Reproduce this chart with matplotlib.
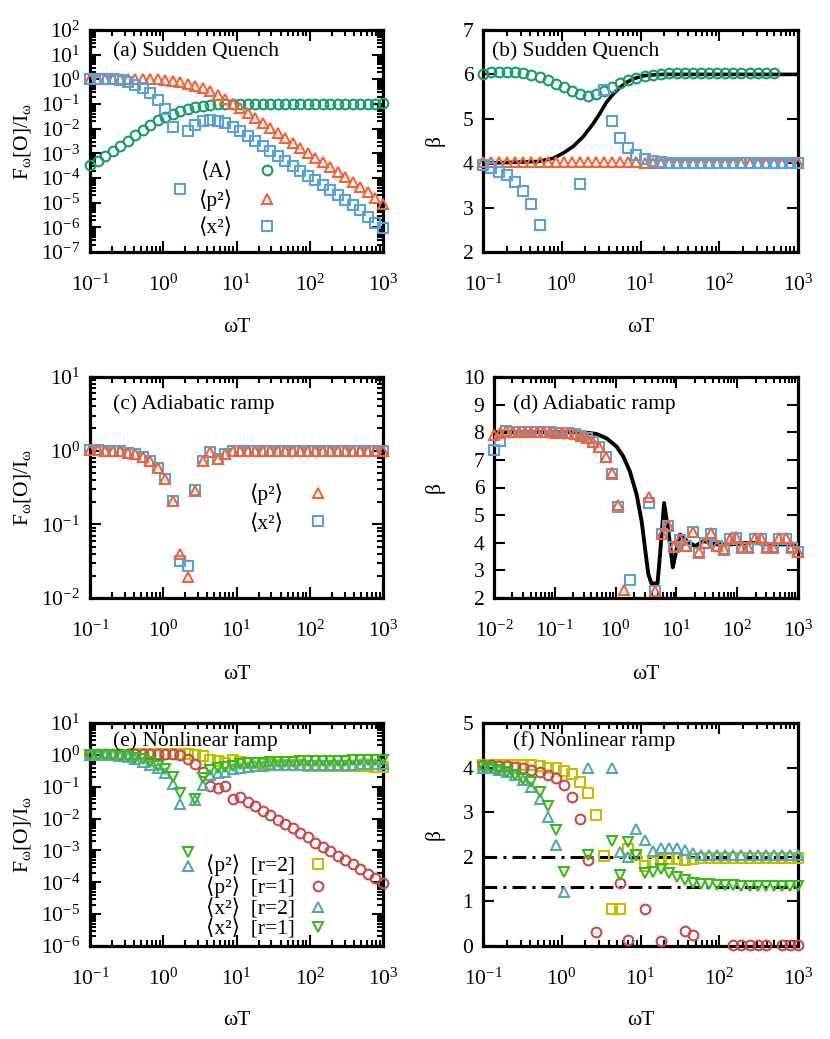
import numpy as np
import matplotlib
matplotlib.use('Agg')
import matplotlib.pyplot as plt
from matplotlib.ticker import LogLocator, NullFormatter, MultipleLocator

plt.rcParams['font.family'] = ['Liberation Serif', 'DejaVu Sans']
plt.rcParams['mathtext.fontset'] = 'custom'
plt.rcParams['mathtext.rm'] = 'Liberation Serif'
plt.rcParams['mathtext.it'] = 'Liberation Serif:italic'
plt.rcParams['mathtext.bf'] = 'Liberation Serif:bold'
plt.rcParams['axes.unicode_minus'] = False
plt.rcParams['font.size'] = 15.5

nan = np.nan

# omega*T grids (40 points for a,b,c,e,f; 50 points for d)
wT = [0.1, 0.1266, 0.1604, 0.2031, 0.2572, 0.3257, 0.4125, 0.5223, 0.6614, 0.8377,
      1.061, 1.343, 1.701, 2.154, 2.728, 3.455, 4.376, 5.541, 7.017, 8.886,
      11.25, 14.25, 18.05, 22.85, 28.94, 36.65, 46.42, 58.78, 74.44, 94.27,
      119.4, 151.2, 191.5, 242.5, 307.0, 388.8, 492.4, 623.6, 789.7, 1000]
wT_d = [0.01, 0.01265, 0.016, 0.02024, 0.0256, 0.03237, 0.04095, 0.0518, 0.06551, 0.08286,
        0.1048, 0.1326, 0.1677, 0.2121, 0.2683, 0.3393, 0.4292, 0.5429, 0.6866, 0.8685,
        1.099, 1.390, 1.758, 2.223, 2.812, 3.557, 4.498, 5.690, 7.197, 9.103,
        11.51, 14.56, 18.42, 23.30, 29.47, 37.28, 47.15, 59.64, 75.43, 95.41,
        120.7, 152.6, 193.1, 244.2, 308.9, 390.7, 494.2, 625.1, 790.6, 1000]

# (a) sudden quench, log10 of F/I
a_A = [-3.46, -3.30, -3.09, -2.89, -2.69, -2.49, -2.27, -2.05, -1.84, -1.66,
       -1.51, -1.39, -1.30, -1.20, -1.14, -1.08, -1.04, -1.01, -1.00, -0.99,
       -0.99, -0.99, -0.99, -0.99, -0.99, -0.99, -0.99, -0.99, -0.99, -0.99,
       -0.99, -0.99, -0.99, -0.99, -0.99, -0.99, -0.99, -0.99, -0.99, -0.97]
a_p2 = [0.03, 0.03, 0.03, 0.03, 0.03, 0.03, 0.03, 0.02, 0.02, 0.00,
        -0.03, -0.05, -0.11, -0.18, -0.25, -0.35, -0.48, -0.63, -0.80, -0.98,
        -1.17, -1.37, -1.57, -1.77, -1.97, -2.17, -2.37, -2.57, -2.77, -2.97,
        -3.17, -3.37, -3.57, -3.77, -3.97, -4.17, -4.37, -4.58, -4.80, -5.05]
a_x2 = [0.02, 0.02, 0.01, 0.00, -0.03, -0.10, -0.22, -0.35, -0.55, -0.82,
        -1.19, -1.92, -4.45, -2.11, -1.84, -1.68, -1.63, -1.67, -1.78, -1.93,
        -2.10, -2.29, -2.49, -2.69, -2.90, -3.10, -3.30, -3.50, -3.70, -3.90,
        -4.10, -4.30, -4.50, -4.70, -4.90, -5.10, -5.30, -5.58, -5.82, -6.03]

# (b) sudden quench, beta
b_A = [6.01, 6.05, 6.05, 6.05, 6.05, 6.03, 5.99, 5.94, 5.87, 5.79,
       5.71, 5.63, 5.56, 5.52, 5.55, 5.63, 5.72, 5.80, 5.87, 5.92,
       5.96, 5.99, 6.01, 6.03, 6.03, 6.03, 6.03, 6.03, 6.03, 6.03,
       6.03, 6.03, 6.03, 6.03, 6.03, 6.03, 6.03, nan, nan, nan]
b_p2 = [4.02, 4.02, 4.02, 4.02, 4.02, 4.02, 4.02, 4.02, 4.02, 4.02,
        4.02, 4.02, 4.02, 4.02, 4.02, 4.02, 4.02, 4.02, 4.02, 4.02,
        4.01, 4.01, 4.01, 4.01, 4.01, 4.01, 4.01, 4.01, 4.01, 4.01,
        4.01, 4.01, 4.01, 4.01, 4.01, 4.01, 4.01, 4.01, 4.01, 4.01]
b_x2 = [3.96, 3.89, 3.81, 3.73, 3.57, 3.38, 3.08, 2.61, nan, nan,
        nan, nan, 3.53, nan, nan, 5.65, 4.94, 4.56, 4.34, 4.19,
        4.10, 4.05, 4.02, 4.01, 4.00, 4.00, 4.00, 4.00, 4.00, 4.00,
        4.00, 4.00, 4.00, 4.00, 4.00, 4.00, 4.00, 4.00, 4.00, 4.00]
b_line_x = [0.1, 0.243, 0.5, 0.78, 1.05, 1.4, 1.88, 2.53, 3.07, 3.72,
            4.52, 5.49, 6.67, 8.1, 10.9, 14.6, 19.5, 1000]
b_line_y = [4.0, 4.02, 4.04, 4.11, 4.23, 4.38, 4.60, 4.90, 5.13, 5.38,
            5.56, 5.71, 5.82, 5.90, 5.97, 5.99, 6.0, 6.0]

# (c) adiabatic ramp, log10 of F/I
c_p2 = [0.01, 0.01, 0.00, 0.00, -0.01, -0.03, -0.05, -0.08, -0.14, -0.23,
        -0.38, -0.69, -1.40, -1.72, -0.55, -0.14, -0.02, -0.11, -0.04, -0.01,
        0.00, 0.00, 0.00, 0.00, 0.00, 0.00, 0.00, 0.00, 0.00, 0.00,
        0.00, 0.00, 0.00, 0.00, 0.00, 0.00, 0.00, 0.00, 0.00, 0.00]
c_x2 = [0.01, 0.01, 0.00, 0.00, -0.01, -0.03, -0.05, -0.08, -0.14, -0.23,
        -0.38, -0.69, -1.50, -1.57, -0.53, -0.14, -0.02, -0.11, -0.04, -0.01,
        0.00, 0.00, 0.00, 0.00, 0.00, 0.00, 0.00, 0.00, 0.00, 0.00,
        0.00, 0.00, 0.00, 0.00, 0.00, 0.00, 0.00, 0.00, 0.00, 0.00]

# (d) adiabatic ramp, beta
d_p2 = [7.90, 7.98, 8.05, 8.02, 8.01, 8.00, 8.00, 8.00, 8.00, 8.00,
        7.99, 7.98, 7.96, 7.93, 7.87, 7.78, 7.66, 7.45, 7.12, 6.52,
        5.35, 2.30, nan, nan, nan, 5.65, 2.27, 4.33, 4.65, 3.88,
        4.12, 3.88, 4.40, 3.66, 4.00, 4.34, 3.88, 3.76, 4.15, 4.20,
        3.83, 3.83, 4.17, 4.17, 3.83, 3.83, 4.17, 4.17, 3.83, 3.67]
d_x2 = [7.36, 7.70, 8.05, 8.02, 8.01, 8.00, 8.00, 8.00, 8.00, 8.00,
        7.99, 7.98, 7.96, 7.93, 7.87, 7.78, 7.66, 7.45, 7.12, 6.50,
        5.29, nan, 2.64, nan, nan, 5.45, 2.27, 4.31, 4.62, 3.86,
        4.10, 3.87, 4.38, 3.64, 3.98, 4.32, 3.87, 3.74, 4.13, 4.18,
        3.81, 3.81, 4.15, 4.15, 3.81, 3.81, 4.15, 4.15, 3.81, 3.65]
d_line_x = [0.01, 0.29, 0.485, 0.71, 1.04, 1.34, 1.72, 2.22, 2.68, 3.04,
            3.45, 3.88, 4.9, 5.38, 6.27, 7.38, 8.73, 10.2, 11.5, 14.9,
            20.4, 27.9, 46.4, 76.9, 164, 399, 1000]
d_line_y = [8.0, 8.0, 7.94, 7.78, 7.48, 7.12, 6.58, 5.74, 4.78, 3.82,
            2.87, 2.53, 2.53, 3.58, 5.44, 4.42, 3.11, 3.82, 4.30, 4.06,
            3.88, 4.06, 3.94, 3.94, 4.0, 3.94, 3.94]

# (e) nonlinear ramp, log10 of F/I
e_p2_r2 = [0.00, 0.00, 0.00, 0.01, 0.01, 0.01, 0.02, 0.02, 0.02, 0.02,
           0.02, 0.02, 0.02, 0.02, 0.00, -0.05, -0.15, -0.20, -0.25, -0.17,
           -0.22, -0.25, -0.27, -0.29, -0.30, -0.31, -0.32, -0.33, -0.33, -0.34,
           -0.34, -0.35, -0.35, -0.35, -0.36, -0.36, -0.36, -0.36, -0.37, -0.37]
e_p2_r1 = [0.04, 0.04, 0.04, 0.04, 0.04, 0.04, 0.04, 0.04, 0.04, 0.04,
           0.03, 0.02, 0.00, -0.12, -0.28, -0.55, -0.98, -1.03, -0.98, -1.38,
           -1.33, -1.47, -1.60, -1.75, -1.89, -2.04, -2.17, -2.31, -2.46, -2.59,
           -2.76, -2.88, -3.02, -3.17, -3.30, -3.43, -3.59, -3.74, -3.87, -4.03]
e_x2_r2 = [0.00, 0.00, 0.00, -0.01, -0.03, -0.08, -0.14, -0.21, -0.32, -0.40,
           -0.58, -0.91, -1.55, -3.48, -1.43, -0.95, -0.63, -0.58, -0.53, -0.45,
           -0.40, -0.37, -0.35, -0.34, -0.33, -0.33, -0.33, -0.32, -0.32, -0.32,
           -0.32, -0.31, -0.31, -0.31, -0.31, -0.31, -0.30, -0.30, -0.30, -0.30]
e_x2_r1 = [0.00, 0.00, 0.00, -0.02, -0.03, -0.05, -0.09, -0.14, -0.23, -0.34,
           -0.45, -0.68, -1.19, -3.04, -1.38, -0.74, -0.47, -0.42, -0.39, -0.35,
           -0.30, -0.27, -0.25, -0.24, -0.23, -0.22, -0.21, -0.21, -0.20, -0.20,
           -0.19, -0.19, -0.18, -0.18, -0.18, -0.17, -0.17, -0.17, -0.16, -0.16]

# (f) nonlinear ramp, beta
f_p2_r2 = [4.05, 4.05, 4.05, 4.05, 4.05, 4.05, 4.05, 4.03, 4.00, 3.98,
           3.93, 3.86, 3.68, 3.43, 2.93, 2.01, 0.82, 0.82, 2.18, 2.04,
           1.80, 1.88, 1.92, 1.96, 1.94, 1.93, 1.95, 1.97, 1.98, 1.98,
           1.98, 1.98, 1.98, 1.98, 1.98, 1.98, 1.98, 1.98, 1.98, 1.98]
f_p2_r1 = [4.05, 4.05, 4.04, 4.03, 4.02, 3.98, 3.95, 3.91, 3.83, 3.76,
           3.61, 3.33, 2.85, 1.93, 0.31, nan, nan, 1.41, 0.13, nan,
           0.82, nan, 0.12, nan, nan, 0.33, 0.25, nan, nan, nan,
           nan, 0.02, 0.02, 0.02, 0.02, 0.02, nan, 0.02, 0.02, 0.02]
f_x2_r2 = [4.00, 3.98, 3.95, 3.90, 3.83, 3.72, 3.57, 3.30, 2.90, 2.26,
           1.22, nan, nan, 4.00, nan, nan, 4.00, 2.10, 2.00, 2.62,
           2.38, 2.12, 2.19, 2.19, 2.19, 2.15, 2.08, 2.05, 2.05, 2.05,
           2.05, 2.04, 2.04, 2.04, 2.04, 2.03, 2.03, 2.03, 2.03, 2.03]
f_x2_r1 = [4.02, 3.99, 3.95, 3.91, 3.83, 3.74, 3.68, 3.46, 3.14, 2.60,
           1.67, nan, nan, 2.04, nan, nan, 2.36, 1.59, 2.34, 2.04,
           1.63, 1.67, 1.72, 1.63, 1.55, 1.48, 1.42, 1.40, 1.38, 1.37,
           1.36, 1.36, 1.35, 1.35, 1.35, 1.34, 1.34, 1.34, 1.34, 1.35]
f_limits = [2.0, 4.0 / 3.0]

# colours
c_green = '#189c6a'
c_orange = '#f0643a'
c_blue = '#5aa2d6'
c_olive = '#c2be00'
c_red = '#c84a4a'
c_teal = '#55aab0'
c_lime = '#3cb81e'

# legend labels as plain text (angle brackets come from DejaVu Sans)
lbl_A = '⟨A⟩'
lbl_p2 = '⟨p²⟩'
lbl_x2 = '⟨x²⟩'


def pts(ax, x, y, marker, color, ms, label=None, log=False):
    y = np.array(y, dtype=float)
    if log:
        y = 10 ** y
    ax.plot(x, y, linestyle='none', marker=marker, ms=ms, mfc='none', mec=color,
            mew=1.5, clip_on=False, zorder=3, label=label)


def style(ax, logy, xlim, ylim):
    ax.set_xscale('log')
    ax.set_xlim(*xlim)
    ax.xaxis.set_major_locator(LogLocator(base=10, numticks=30))
    ax.xaxis.set_minor_locator(LogLocator(base=10, subs=np.arange(2, 10), numticks=300))
    ax.xaxis.set_minor_formatter(NullFormatter())
    if logy:
        ax.set_yscale('log')
        ax.yaxis.set_major_locator(LogLocator(base=10, numticks=30))
        ax.yaxis.set_minor_locator(LogLocator(base=10, subs=np.arange(2, 10), numticks=300))
        ax.yaxis.set_minor_formatter(NullFormatter())
    else:
        ax.yaxis.set_major_locator(MultipleLocator(1))
    ax.set_ylim(*ylim)
    ax.tick_params(which='both', direction='in', top=True, right=True, width=1.5, labelsize=15.5)
    ax.tick_params(which='major', length=8)
    ax.tick_params(which='minor', length=4)
    ax.tick_params(axis='x', which='major', pad=16)
    ax.tick_params(axis='y', which='major', pad=7)
    for s in ax.spines.values():
        s.set_linewidth(2.3)
        s.set_zorder(2.5)
    ax.set_xlabel('ωT', va='center')


fig = plt.figure(figsize=(8.3, 10.39), dpi=100)
W, H = 830.0, 1039.0


def box(l, r, t, b):
    return [l / W, 1 - b / H, (r - l) / W, (b - t) / H]


ax_a = fig.add_axes(box(90, 383, 30, 252))
ax_b = fig.add_axes(box(483, 798, 30, 252))
ax_c = fig.add_axes(box(90, 383, 377, 598))
ax_d = fig.add_axes(box(494, 798, 377, 598))
ax_e = fig.add_axes(box(90, 383, 723, 946))
ax_f = fig.add_axes(box(483, 798, 723, 946))

ylab_F = r'F$_\mathrm{ω}$[O]/I$_\mathrm{ω}$'
leg_kw = dict(loc='upper right', frameon=False, markerfirst=False, handlelength=1.0,
              borderpad=0, borderaxespad=0, numpoints=1, fontsize=15.5)

# (a)
pts(ax_a, wT, a_A, 'o', c_green, 7, lbl_A, log=True)
pts(ax_a, wT, a_p2, '^', c_orange, 7.5, lbl_p2, log=True)
pts(ax_a, wT, a_x2, 's', c_blue, 6.5, lbl_x2, log=True)
style(ax_a, True, (0.1, 1000), (1e-7, 1e2))
ax_a.set_ylabel(ylab_F, va='center')
ax_a.text(0.078, 0.90, '(a) Sudden Quench', transform=ax_a.transAxes, va='center')
ax_a.legend(bbox_to_anchor=(0.64, 0.405), handletextpad=1.1, labelspacing=0.34, **leg_kw)

# (b)
ax_b.plot(b_line_x, b_line_y, color='black', lw=2.6, zorder=2)
pts(ax_b, wT, b_A, 'o', c_green, 7)
pts(ax_b, wT, b_p2, '^', c_orange, 7.5)
pts(ax_b, wT, b_x2, 's', c_blue, 6.5)
style(ax_b, False, (0.1, 1000), (2, 7))
ax_b.set_ylabel('β', va='center')
ax_b.text(0.028, 0.90, '(b) Sudden Quench', transform=ax_b.transAxes, va='center')

# (c)
pts(ax_c, wT, c_x2, 's', c_blue, 6.5, log=True)
pts(ax_c, wT, c_p2, '^', c_orange, 6.5, log=True)
ax_c.plot([], [], linestyle='none', marker='^', ms=7.5, mfc='none', mec=c_orange, mew=1.5, label=lbl_p2)
ax_c.plot([], [], linestyle='none', marker='s', ms=6.5, mfc='none', mec=c_blue, mew=1.5, label=lbl_x2)
style(ax_c, True, (0.1, 1000), (1e-2, 1e1))
ax_c.set_ylabel(ylab_F, va='center')
ax_c.text(0.078, 0.878, '(c) Adiabatic ramp', transform=ax_c.transAxes, va='center')
ax_c.legend(bbox_to_anchor=(0.814, 0.517), handletextpad=1.1, labelspacing=0.38, **leg_kw)

# (d)
ax_d.plot(d_line_x, d_line_y, color='black', lw=2.8, zorder=2)
pts(ax_d, wT_d, d_x2, 's', c_blue, 6.5)
pts(ax_d, wT_d, d_p2, '^', c_orange, 6.5)
style(ax_d, False, (0.01, 1000), (2, 10))
ax_d.set_ylabel('β', va='center')
ax_d.text(0.061, 0.878, '(d) Adiabatic ramp', transform=ax_d.transAxes, va='center')

# (e)
pts(ax_e, wT, e_p2_r2, 's', c_olive, 6.5, lbl_p2 + '  [r=2]', log=True)
pts(ax_e, wT, e_p2_r1, 'o', c_red, 7, lbl_p2 + '  [r=1]', log=True)
pts(ax_e, wT, e_x2_r2, '^', c_teal, 7.5, lbl_x2 + '  [r=2]', log=True)
pts(ax_e, wT, e_x2_r1, 'v', c_lime, 7.5, lbl_x2 + '  [r=1]', log=True)
style(ax_e, True, (0.1, 1000), (1e-6, 1e1))
ax_e.set_ylabel(ylab_F, va='center')
ax_e.text(0.078, 0.92, '(e) Nonlinear ramp', transform=ax_e.transAxes, va='center')
ax_e.legend(bbox_to_anchor=(0.814, 0.41), handletextpad=0.56, labelspacing=0.03, **leg_kw)

# (f)
for v in f_limits:
    ax_f.axhline(v, color='black', lw=2.2, dashes=(4.5, 2, 1, 2), zorder=2)
pts(ax_f, wT, f_p2_r2, 's', c_olive, 6.5)
pts(ax_f, wT, f_p2_r1, 'o', c_red, 7)
pts(ax_f, wT, f_x2_r2, '^', c_teal, 7.5)
pts(ax_f, wT, f_x2_r1, 'v', c_lime, 7.5)
style(ax_f, False, (0.1, 1000), (0, 5))
ax_f.set_ylabel('β', va='center')
ax_f.text(0.094, 0.92, '(f) Nonlinear ramp', transform=ax_f.transAxes, va='center')

# label positions
for ax, xl, yl in [(ax_a, -0.342, -0.232), (ax_b, -0.342, -0.152),
                   (ax_c, -0.344, -0.232), (ax_d, -0.344, -0.194),
                   (ax_e, -0.332, -0.232), (ax_f, -0.332, -0.152)]:
    ax.xaxis.set_label_coords(0.5, xl)
    ax.yaxis.set_label_coords(yl, 0.5)

fig.savefig('out.png', dpi=100)
